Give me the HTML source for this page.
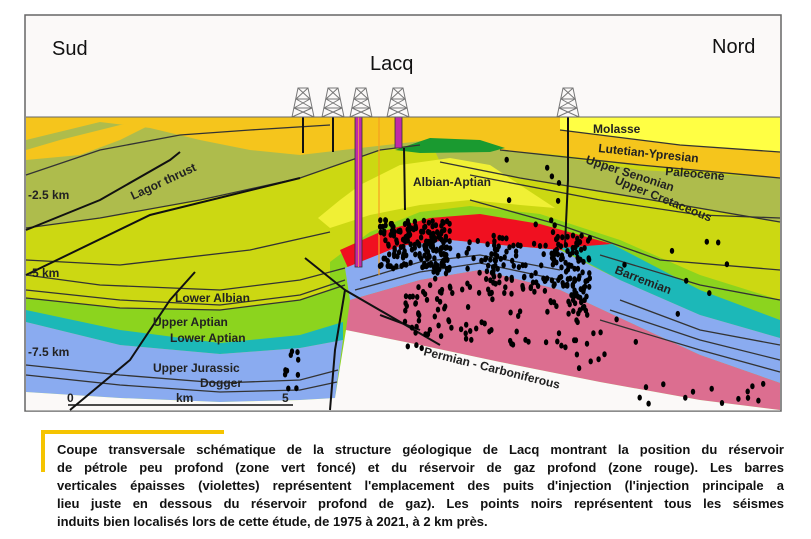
<!DOCTYPE html>
<html><head><meta charset="utf-8"><style>
html,body{margin:0;padding:0;background:#fff;}
body{width:811px;height:539px;position:relative;overflow:hidden;font-family:"Liberation Sans",sans-serif;}
.cap{position:absolute;left:57px;top:441px;width:727px;font-weight:bold;font-size:13px;line-height:18px;color:#111;}
.cap div{text-align:justify;text-align-last:justify;white-space:nowrap;height:18px;}
.cap div.l{text-align-last:left;}
</style></head><body>
<svg width="811" height="430" style="position:absolute;left:0;top:0" xmlns="http://www.w3.org/2000/svg">
<defs>
<g id="d" fill="none" stroke="#777" stroke-width="1"><path d="M-11 29 L-5 0 L5 0 L11 29 Z M-9 20 L9 20 M-7 11 L7 11 M-9 20 L7 11 M9 20 L-7 11 M-7 11 L5 0 M7 11 L-5 0 M-11 29 L9 20 M11 29 L-9 20"/></g>
</defs>
<rect x="25" y="15" width="756" height="396" fill="#fbf9f8" stroke="#666" stroke-width="1.5"/>
<g font-family="Liberation Sans Narrow, Liberation Sans, sans-serif" font-size="20" fill="#111">
<text x="52" y="55">Sud</text><text x="712" y="53">Nord</text><text x="370" y="70">Lacq</text></g>
<rect x="26" y="117" width="754" height="293" fill="#ccd812"/>
<path d="M26 117 L420 117 L420 145 L380 150 L300 178 L200 200 L100 218 L26 228 Z" fill="#aebc4c"/>
<path d="M430 140 L520 150 L640 170 L780 178 L780 222 L640 198 L520 178 L440 162 Z" fill="#aebc4c"/>
<path d="M26 117 L780 117 L780 178 L640 165 L560 155 L500 150 L430 140 L360 148 L300 155 L250 150 L200 140 L150 128 L100 122 L26 140 Z" fill="#f5c51c"/>
<path d="M26 150 L60 140 L120 125 L160 120 L120 140 L80 155 L26 160Z" fill="#f5c51c"/>
<path d="M560 117 L780 117 L780 152 L680 145 L600 135 L560 130 Z" fill="#ffff44"/>
<path d="M395 150 L430 138 L480 140 L505 148 L490 152 L420 153 Z" fill="#1a9a30"/>
<path d="M318 218 L340 200 L360 185 L400 165 L450 158 L490 165 L520 185 L555 208 L520 205 L470 200 L420 205 L370 215 L330 228 Z" fill="#f0f035"/>
<path d="M330 262 L370 232 L420 212 L470 206 L540 214 L620 240 L700 275 L780 300 L780 410 L330 410 Z" fill="#8cd41e"/>
<path d="M26 298 L120 308 L220 310 L300 300 L345 285 L345 410 L26 410Z" fill="#8cd41e"/>
<path d="M26 310 L120 330 L220 343 L300 335 L343 322 L343 340 L300 348 L220 354 L120 345 L26 322Z" fill="#1cb8b8"/>
<path d="M26 322 L120 345 L220 354 L300 348 L343 340 L335 398 L300 400 L220 402 L120 398 L26 392Z" fill="#8aabf0"/>
<path d="M340 250 L380 232 L430 218 L480 214 L540 224 L612 244 L560 250 L500 245 L450 240 L400 246 L348 268 Z" fill="#f01020"/>
<path d="M560 248 L612 244 L700 290 L780 320 L780 338 L700 315 L620 280 Z" fill="#1cb8b8"/>
<path d="M345 268 L400 246 L450 240 L500 245 L560 250 L620 280 L700 315 L780 338 L780 383 L700 355 L620 318 L560 290 L480 270 L420 280 L350 300 Z" fill="#8aabf0"/>
<path d="M350 300 L420 280 L480 270 L560 290 L620 318 L700 355 L780 383 L780 410 L700 400 L600 382 L500 362 L420 345 L346 330 Z" fill="#dc6e90"/>
<!-- white bottom -->
<path d="M26 392 L120 398 L220 402 L300 400 L335 398 L346 330 L420 345 L500 362 L600 382 L700 400 L780 410 L780 410.5 L26 410.5 Z" fill="#fbf9f8"/>
<g fill="none" stroke="#333" stroke-width="1.3">
<path d="M26 228 L100 218 L200 200 L300 178 L380 150 L420 145"/>
<path d="M26 175 L100 150 L180 135 L250 130 L330 125"/>
<path d="M26 260 L120 265 L250 250 L330 232"/>
<path d="M26 275 L100 285 L220 290 L300 280 L345 268"/>
<path d="M26 290 L120 300 L220 305 L300 295 L345 280"/>
<path d="M26 298 L120 308 L220 310 L300 300 L345 285"/>
<path d="M26 365 L120 375 L220 383 L300 380 L338 370"/>
<path d="M26 375 L120 385 L220 392 L300 390 L337 382"/>
<path d="M560 130 L680 145 L780 152"/><path d="M500 150 L640 165 L780 178"/>
<path d="M440 162 L520 178 L640 198 L780 222"/><path d="M470 175 L600 200 L700 215 L780 218"/>
<path d="M470 200 L560 225 L660 260 L780 270"/>
<path d="M600 255 L700 285 L780 300"/>
<path d="M620 300 L700 330 L780 345"/><path d="M610 310 L700 340 L780 360"/><path d="M600 320 L700 350 L780 372"/>
<path d="M360 280 L420 262 L480 255 L560 270"/><path d="M355 290 L420 272 L480 263 L560 280"/>
</g>
<g fill="none" stroke="#111" stroke-width="2">
<path d="M26 230 L100 200 L170 160 L180 152"/>
<path d="M26 275 L150 215 L300 178"/>
<path d="M70 410 L130 360 L170 300 L195 272"/>
<path d="M305 258 L345 290 L335 350 L330 410"/>
<path d="M345 290 L440 345"/><path d="M380 315 L420 330"/>
<path d="M303 117 L303 153"/><path d="M333 117 L333 152"/>
<path d="M404 148 L405 210"/><path d="M568 117 L568 180 L565 245"/>
</g>
<line x1="379" y1="117" x2="379" y2="275" stroke="#f5a020" stroke-width="1.2"/>
<rect x="355" y="117" width="7" height="150" fill="#c02aa8" stroke="#333" stroke-width="0.8"/>
<line x1="358.5" y1="117" x2="358.5" y2="267" stroke="#f08060" stroke-width="1"/>
<rect x="395" y="117" width="7" height="31" fill="#c02aa8" stroke="#333" stroke-width="0.8"/>
<use href="#d" x="303" y="88"/><use href="#d" x="333" y="88"/><use href="#d" x="361" y="88"/><use href="#d" x="398" y="88"/><use href="#d" x="568" y="88"/>
<line x1="26" y1="117" x2="780" y2="117" stroke="#666" stroke-width="1"/>
<g font-weight="bold" font-size="12" fill="#222" font-family="Liberation Sans, sans-serif">
<text x="593" y="133">Molasse</text>
<text x="598" y="152" transform="rotate(6 598 152)">Lutetian-Ypresian</text>
<text x="665" y="175" transform="rotate(5 665 175)">Paleocene</text>
<text x="585" y="163" transform="rotate(18 585 163)">Upper Senonian</text>
<text x="614" y="183" transform="rotate(22 614 183)">Upper Cretaceous</text>
<text x="413" y="186">Albian-Aptian</text>
<text x="614" y="273" transform="rotate(21 614 273)">Barremian</text>
<text x="423" y="355" transform="rotate(14 423 355)">Permian - Carboniferous</text>
<text x="175" y="302">Lower Albian</text>
<text x="153" y="326">Upper Aptian</text>
<text x="170" y="342">Lower Aptian</text>
<text x="153" y="372">Upper Jurassic</text>
<text x="200" y="387">Dogger</text>
<text x="133" y="200" transform="rotate(-25 133 200)">Lagor thrust</text>
<text x="28" y="199">-2.5 km</text>
<text x="28" y="277">-5 km</text>
<text x="28" y="356">-7.5 km</text>
<text x="67" y="402">0</text><text x="176" y="402">km</text><text x="282" y="402">5</text>
</g>
<line x1="68" y1="405" x2="293" y2="405" stroke="#111" stroke-width="1.5"/>
<g id="dots" fill="#000"></g>
</svg>
<div style="position:absolute;left:41px;top:430px;width:183px;height:4px;background:#f5c400"></div>
<div style="position:absolute;left:41px;top:430px;width:4px;height:42px;background:#f5c400"></div>
<div class="cap">
<div>Coupe transversale schématique de la structure géologique de Lacq montrant la position du réservoir</div>
<div>de pétrole peu profond (zone vert foncé) et du réservoir de gaz profond (zone rouge). Les barres</div>
<div>verticales épaisses (violettes) représentent l'emplacement des puits d'injection (l'injection principale a</div>
<div>lieu juste en dessous du réservoir profond de gaz). Les points noirs représentent tous les séismes</div>
<div class="l">induits bien localisés lors de cette étude, de 1975 à 2021, à 2 km près.</div>
</div>
<script>
(function(){var s=7;function r(){s=(s*16807)%2147483647;return s/2147483647;}
var g=document.getElementById('dots'),ns='http://www.w3.org/2000/svg';
function add(cx,cy,sx,sy,n){for(var i=0;i<n;i++){var e=document.createElementNS(ns,'ellipse');
e.setAttribute('cx',(cx+(r()-0.5)*2*sx).toFixed(1));e.setAttribute('cy',(cy+(r()-0.5)*2*sy).toFixed(1));
e.setAttribute('rx','2.2');e.setAttribute('ry','3');g.appendChild(e);}}
add(415,245,35,25,170);add(470,265,40,30,60);add(570,275,20,40,110);add(520,270,30,25,50);
add(450,320,45,30,35);add(560,340,50,30,25);add(650,300,80,60,15);add(290,370,10,20,10);
add(700,395,70,12,14);add(540,200,40,50,12);add(430,310,25,25,20);})();
</script>
</body></html>
